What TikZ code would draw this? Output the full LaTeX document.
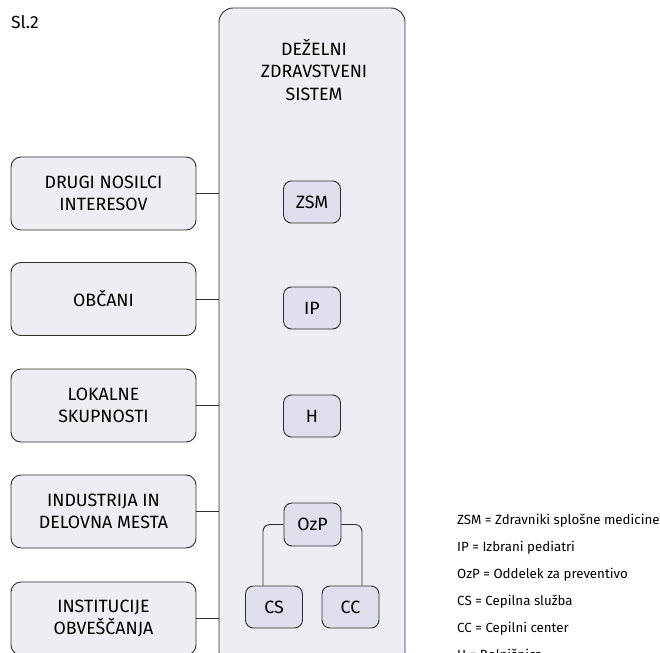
\documentclass[tikz,border=0pt]{standalone}
\usepackage{fontspec}
\setmainfont{Fira Sans}
\definecolor{boxfill}{HTML}{EDEEF3}
\definecolor{nodefill}{HTML}{DDE0EC}
\definecolor{edge}{HTML}{2E2E2E}
\begin{document}
\begin{tikzpicture}[x=1pt,y=-1pt,
  bigbox/.style={draw=edge,line width=0.9pt,fill=boxfill,rounded corners=14pt},
  sidebox/.style={draw=edge,line width=0.9pt,fill=boxfill,rounded corners=10pt,
    minimum width=185pt,minimum height=73pt,align=center,inner sep=0pt,
    font=\fontsize{17.8}{22}\selectfont},
  unit/.style={draw=edge,line width=0.9pt,fill=nodefill,rounded corners=8pt,
    minimum width=57pt,minimum height=42pt,inner sep=0pt,
    font=\fontsize{17.8}{20}\selectfont},
  link/.style={draw=edge,line width=0.9pt},
  legend/.style={anchor=west,inner sep=0pt,font=\fontsize{13.3}{15}\selectfont}]
\useasboundingbox (0,0) rectangle (660,652);
\clip (0,0) rectangle (660,652);
% big box
\draw[bigbox] (219,8) rectangle (405,652+14);
\coordinate (bigw) at (219,300);
\node[align=center,inner sep=0pt,font=\fontsize{17.8}{22.5}\selectfont] (title) at (314,70) {DEŽELNI\\ZDRAVSTVENI\\SISTEM};
\node[anchor=west,inner sep=0pt,font=\fontsize{17.5}{20}\selectfont] (sl) at (11,22) {Sl.2};
% side boxes
\node[sidebox] (drugi) at (103.5,193.5) {DRUGI NOSILCI\\INTERESOV};
\node[sidebox] (obcani) at (103.5,299) {OBČANI};
\node[sidebox] (lokalne) at (103.5,405.5) {LOKALNE\\SKUPNOSTI};
\node[sidebox] (industrija) at (103.5,511.5) {INDUSTRIJA IN\\DELOVNA MESTA};
\node[sidebox] (institucije) at (103.5,618.5) {INSTITUCIJE\\OBVEŠČANJA};
\foreach \n in {drugi,obcani,lokalne,industrija,institucije}
  \draw[link] (\n.east) -- (\n.east -| bigw);
% units
\node[unit] (zsm) at (312,202) {ZSM};
\node[unit] (ip) at (312,308) {IP};
\node[unit] (h) at (312,416) {H};
\node[unit,minimum height=43pt] (ozp) at (312.5,524.5) {OzP};
\node[unit] (cs) at (274,607) {CS};
\node[unit] (cc) at (350.5,607) {CC};
\draw[link,rounded corners=7pt] (ozp.west) -| (cs.north -| 263,0);
\draw[link,rounded corners=7pt] (ozp.east) -| (cc.north -| 362,0);
% legend
\node[legend] (l1) at (457,521) {ZSM = Zdravniki splošne medicine};
\node[legend] (l2) at (457,548) {IP = Izbrani pediatri};
\node[legend] (l3) at (457,575) {OzP = Oddelek za preventivo};
\node[legend] (l4) at (457,602) {CS = Cepilna služba};
\node[legend] (l5) at (457,629) {CC = Cepilni center};
\node[legend] (l6) at (457,654.5) {H = Bolnišnica};
\end{tikzpicture}
\end{document}
